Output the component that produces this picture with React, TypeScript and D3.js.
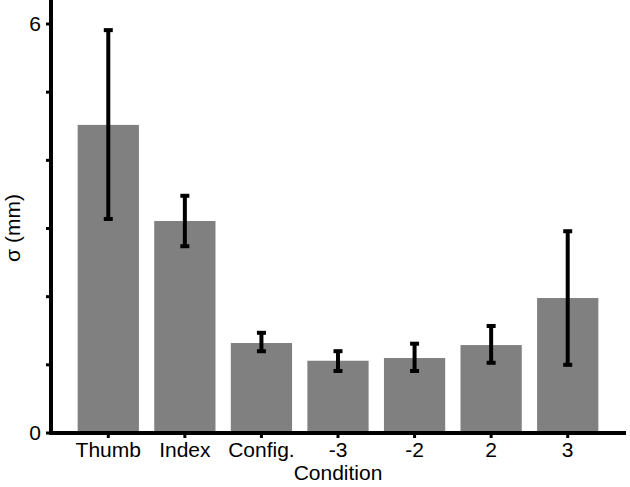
import React, { useEffect, useRef } from 'react';
import * as d3 from 'd3';

// σ per condition, with the top and bottom of each error bar
const conditions = ['Thumb', 'Index', 'Config.', '-3', '-2', '2', '3'];
const sigma = [4.52, 3.11, 1.32, 1.06, 1.10, 1.29, 1.98];
const errHigh = [5.91, 3.48, 1.47, 1.20, 1.31, 1.57, 2.96];
const errLow = [3.14, 2.74, 1.20, 0.91, 0.91, 1.03, 1.00];
const yTicks = [0, 1, 2, 3, 4, 5, 6];
const yLabelled = [0, 6];

const W = 630;
const H = 487;
const FONT = '"Liberation Sans", Arial, sans-serif';

const App = () => {
  const svgRef = useRef(null);

  useEffect(() => {
    const svg = d3.select(svgRef.current);
    svg.selectAll('*').remove();

    const x = d3.scaleBand().domain(conditions).range([70, 606]).paddingInner(0.2).paddingOuter(0.1);
    const y = d3.scaleLinear().domain([0, 6]).range([433, 24]);

    const data = conditions.map((c, i) => ({ c, v: sigma[i], hi: errHigh[i], lo: errLow[i] }));

    // bars
    svg.append('g')
      .selectAll('rect')
      .data(data)
      .join('rect')
      .attr('x', (d) => x(d.c))
      .attr('y', (d) => y(d.v))
      .attr('width', x.bandwidth())
      .attr('height', (d) => y(0) - y(d.v))
      .attr('fill', '#808080');

    // error bars
    const eb = svg.append('g').attr('stroke', '#000');
    const cx = (d) => x(d.c) + x.bandwidth() / 2;
    eb.selectAll('line.stem')
      .data(data)
      .join('line')
      .attr('class', 'stem')
      .attr('x1', cx).attr('x2', cx)
      .attr('y1', (d) => y(d.hi)).attr('y2', (d) => y(d.lo))
      .attr('stroke-width', 4);
    for (const key of ['hi', 'lo']) {
      eb.selectAll(`rect.cap-${key}`)
        .data(data)
        .join('rect')
        .attr('class', `cap-${key}`)
        .attr('x', (d) => cx(d) - 4.5)
        .attr('y', (d) => y(d[key]) - 2)
        .attr('width', 9)
        .attr('height', 4)
        .attr('fill', '#000')
        .attr('stroke', 'none');
    }

    // y axis
    const yAxis = svg.append('g');
    yAxis.append('line')
      .attr('x1', 51).attr('x2', 51)
      .attr('y1', y(0) + 2).attr('y2', y(6.4))
      .attr('stroke', '#000').attr('stroke-width', 4);
    yAxis.selectAll('line.tick')
      .data(yTicks)
      .join('line')
      .attr('class', 'tick')
      .attr('x1', 46).attr('x2', 51)
      .attr('y1', (d) => y(d)).attr('y2', (d) => y(d))
      .attr('stroke', '#000').attr('stroke-width', 3);
    yAxis.selectAll('text')
      .data(yLabelled)
      .join('text')
      .attr('x', 41)
      .attr('y', (d) => y(d))
      .attr('dy', '0.35em')
      .attr('text-anchor', 'end')
      .attr('font-family', FONT)
      .attr('font-size', 21)
      .text((d) => d);

    // x axis
    const xAxis = svg.append('g');
    xAxis.append('line')
      .attr('x1', 49).attr('x2', 626)
      .attr('y1', y(0)).attr('y2', y(0))
      .attr('stroke', '#000').attr('stroke-width', 4);
    xAxis.selectAll('line.tick')
      .data(data)
      .join('line')
      .attr('class', 'tick')
      .attr('x1', cx).attr('x2', cx)
      .attr('y1', y(0)).attr('y2', y(0) + 5)
      .attr('stroke', '#000').attr('stroke-width', 3);
    xAxis.selectAll('text')
      .data(data)
      .join('text')
      .attr('x', cx)
      .attr('y', 457)
      .attr('text-anchor', 'middle')
      .attr('font-family', FONT)
      .attr('font-size', 21)
      .text((d) => d.c);

    // axis titles
    svg.append('text')
      .attr('x', 338)
      .attr('y', 480)
      .attr('text-anchor', 'middle')
      .attr('font-family', FONT)
      .attr('font-size', 21)
      .text('Condition');
    svg.append('text')
      .attr('transform', 'translate(20, 228) rotate(-90)')
      .attr('text-anchor', 'middle')
      .attr('font-family', FONT)
      .attr('font-size', 21)
      .text('σ (mm)');
  }, []);

  return (
    <svg
      ref={svgRef}
      width={W}
      height={H}
      style={{ position: 'absolute', left: 0, top: 0, background: '#fff' }}
    ></svg>
  );
};

export default App;
